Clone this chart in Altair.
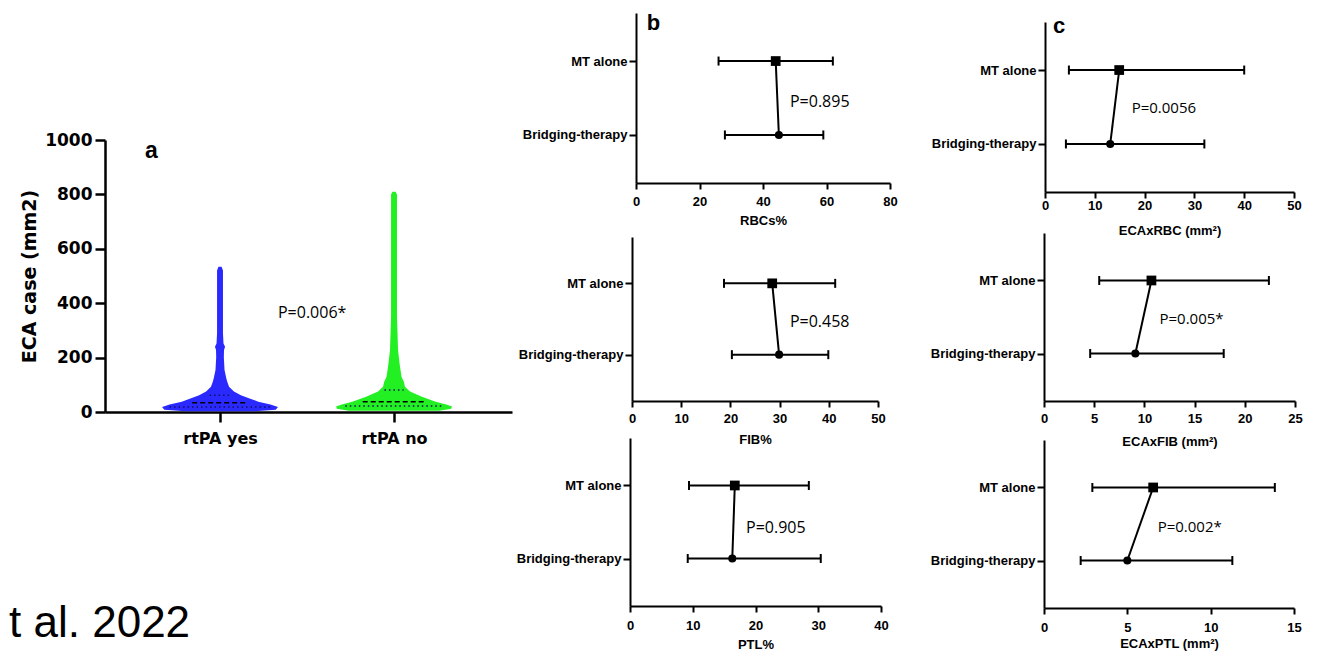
import altair as alt
import pandas as pd

# ---------------- data ----------------
# panel a : violin outlines (y value, half width in x-axis units)
group_names = ["rtPA yes", "rtPA no"]
group_pos = [1, 2]
group_colors = ["#2a2aff", "#22f022"]

blue_y = [3, 8, 18, 28, 38, 50, 62, 75, 93, 110, 124, 154, 200, 228, 240, 252, 290, 520, 534]
blue_hw = [0.20, 0.32, 0.333, 0.29, 0.22, 0.17, 0.12, 0.08, 0.052, 0.042, 0.036, 0.026,
           0.022, 0.023, 0.029, 0.02, 0.017, 0.017, 0.009]
green_y = [5, 12, 20, 28, 38, 56, 75, 93, 110, 130, 173, 228, 290, 350, 800, 810]
green_hw = [0.26, 0.328, 0.333, 0.30, 0.24, 0.16, 0.092, 0.063, 0.057, 0.043, 0.033,
            0.023, 0.02, 0.017, 0.017, 0.009]

# quartile lines: (value, half length) per group
blue_q = {"median": (34, 0.16), "q1": (18, 0.29), "q3": (62, 0.06)}
green_q = {"median": (38, 0.18), "q1": (22, 0.28), "q3": (81, 0.055)}
a_ticks = [0, 200, 400, 600, 800, 1000]
a_ptext = "P=0.006*"

# forest panels
forest_rows = ["MT alone", "Bridging-therapy"]
rbc_mean, rbc_lo, rbc_hi = [44, 45], [26, 28], [62, 59]
fib_mean, fib_lo, fib_hi = [28.5, 29.9], [18.7, 20.3], [41.3, 39.9]
ptl_mean, ptl_lo, ptl_hi = [16.7, 16.3], [9.4, 9.2], [28.5, 30.4]
erbc_mean, erbc_lo, erbc_hi = [14.9, 13.1], [4.8, 4.2], [40, 32]
efib_mean, efib_lo, efib_hi = [10.7, 9.1], [5.5, 4.6], [22.4, 17.9]
eptl_mean, eptl_lo, eptl_hi = [6.55, 5.0], [2.9, 2.2], [13.85, 11.3]

rbc_ticks = [0, 20, 40, 60, 80]
fib_ticks = [0, 10, 20, 30, 40, 50]
ptl_ticks = [0, 10, 20, 30, 40]
erbc_ticks = [0, 10, 20, 30, 40, 50]
efib_ticks = [0, 5, 10, 15, 20, 25]
eptl_ticks = [0, 5, 10, 15]

titles = ["RBCs%", "FIB%", "PTL%", "ECAxRBC (mm²)", "ECAxFIB (mm²)", "ECAxPTL (mm²)"]
ptexts = ["P=0.895", "P=0.458", "P=0.905", "P=0.0056", "P=0.005*", "P=0.002*"]
# annotation anchors in data units (x, y)
p_pos = [(48.5, 1.45), (32.1, 1.46), (18.5, 1.42), (17.4, 1.48), (11.5, 1.47), (6.82, 1.46)]
a_p_pos = (1.333, 365)
a_letter_pos = (0.569, 933)
b_letter_pos = (3.37, 2.42)
c_letter_pos = (1.6, 2.50)
cite_text = "t al. 2022"
cite_pos = (0.828, -826)

# ---------------- layout ----------------
W, H = 1303, 644
Y_DOM = [0.35, 2.65]
BLACK = "black"
ARIAL = "Liberation Sans"
DJV = "DejaVu Sans"
PFONT = "Open Sans"

layers = []


def sx(P):
    return alt.Scale(domain=P["xd"], range=P["xr"], nice=False, zero=False)


def sy(P):
    return alt.Scale(domain=P["yd"], range=P["yr"], nice=False, zero=False)


def XE(field, P, axis=None):
    return alt.X(f"{field}:Q", scale=sx(P), axis=axis)


def YE(field, P, axis=None):
    return alt.Y(f"{field}:Q", scale=sy(P), axis=axis)


def text_layer(P, x, y, t, **mk):
    d = pd.DataFrame({"x": [x], "y": [y], "t": [t]})
    return alt.Chart(d).mark_text(color=BLACK, **mk).encode(
        x=XE("x", P), y=YE("y", P), text="t:N")


def forest(mean, lo, hi, ticks, title, ptext, ppos, xr, yr, lpad, tpad, psize,
           letter=None, lpos=None):
    P = {"xd": [ticks[0], ticks[-1]], "xr": xr, "yd": Y_DOM, "yr": yr}
    df = pd.DataFrame({"row": [2, 1], "label": forest_rows, "mean": mean, "lo": lo, "hi": hi})
    xaxis = alt.Axis(values=ticks, orient="bottom", offset=yr[0] - H, title=title,
                     tickSize=6, tickWidth=2, domainWidth=2, labelPadding=lpad,
                     labelFont=ARIAL, labelFontWeight="bold", labelFontSize=13,
                     titleFont=ARIAL, titleFontWeight="bold", titleFontSize=13,
                     titlePadding=tpad, labelFlush=False, labelOverlap=False, grid=False)
    yaxis = alt.Axis(values=[1, 2], orient="left", offset=-xr[0], title=None,
                     labelExpr=f"datum.value == 2 ? '{forest_rows[0]}' : '{forest_rows[1]}'",
                     tickSize=7, tickWidth=2, domainWidth=2, labelPadding=2,
                     labelFont=ARIAL, labelFontWeight="bold", labelFontSize=13,
                     labelFlush=False, labelOverlap=False, grid=False)
    base = alt.Chart(df)
    out = [
        base.mark_rule(color=BLACK, strokeWidth=2).encode(
            x=XE("lo", P, xaxis), x2="hi:Q", y=YE("row", P, yaxis)),
        base.mark_tick(orient="vertical", size=9, thickness=2, color=BLACK, opacity=1).encode(
            x=XE("lo", P), y=YE("row", P)),
        base.mark_tick(orient="vertical", size=9, thickness=2, color=BLACK, opacity=1).encode(
            x=XE("hi", P), y=YE("row", P)),
        base.mark_line(color=BLACK, strokeWidth=2).encode(x=XE("mean", P), y=YE("row", P)),
        base.transform_filter("datum.row == 2").mark_square(size=95, color=BLACK, opacity=1).encode(
            x=XE("mean", P), y=YE("row", P)),
        base.transform_filter("datum.row == 1").mark_circle(size=65, color=BLACK, opacity=1).encode(
            x=XE("mean", P), y=YE("row", P)),
        text_layer(P, ppos[0], ppos[1], ptext, font=PFONT, fontSize=psize, align="left",
                   baseline="middle"),
    ]
    if letter:
        out.append(text_layer(P, lpos[0], lpos[1], letter, font=ARIAL, fontWeight="bold",
                              fontSize=22, align="left", baseline="alphabetic"))
    return out


# ---------------- panel a ----------------
PA = {"xd": [0.339, 2.678], "xr": [97, 504], "yd": [0, 1000], "yr": [404, 132]}

vrows = []
for g, c, ys, hws in [(group_names[0], group_pos[0], blue_y, blue_hw),
                      (group_names[1], group_pos[1], green_y, green_hw)]:
    for y, hw in zip(ys, hws):
        vrows.append({"group": g, "y": y, "lo": c - hw, "hi": c + hw})
violin_df = pd.DataFrame(vrows)

qrows = []
for g, c, qd in [(group_names[0], group_pos[0], blue_q), (group_names[1], group_pos[1], green_q)]:
    for k, (v, hl) in qd.items():
        qrows.append({"group": g, "kind": k, "y": v, "lo": c - hl, "hi": c + hl})
q_df = pd.DataFrame(qrows)

xa_axis = alt.Axis(values=group_pos, orient="bottom", offset=404 - H, title=None,
                   labelExpr=f"datum.value == 1 ? '{group_names[0]}' : '{group_names[1]}'",
                   tickSize=10, tickWidth=2.5, domainWidth=2.5, labelPadding=8,
                   labelFont=DJV, labelFontWeight="bold", labelFontSize=16,
                   labelFlush=False, grid=False)
ya_axis = alt.Axis(values=a_ticks, format="d", orient="left", offset=-97, title="ECA case (mm2)",
                   tickSize=10, tickWidth=2.5, domainWidth=2.5, labelPadding=3,
                   labelFont=DJV, labelFontWeight="bold", labelFontSize=17,
                   titleFont=DJV, titleFontWeight="bold", titleFontSize=19, titlePadding=5,
                   labelFlush=False, grid=False)

vbase = alt.Chart(violin_df)
for i, g in enumerate(group_names):
    layers.append(
        vbase.transform_filter(alt.datum.group == g).mark_area(
            orient="horizontal", color=group_colors[i], opacity=1).encode(
            y=YE("y", PA, ya_axis if i == 0 else None),
            x=XE("lo", PA, xa_axis if i == 0 else None), x2="hi:Q"))

qbase = alt.Chart(q_df)
layers.append(qbase.transform_filter(alt.datum.kind == "median").mark_rule(
    color=BLACK, strokeWidth=1.5, strokeDash=[5, 3]).encode(
    y=YE("y", PA), x=XE("lo", PA), x2="hi:Q"))
layers.append(qbase.transform_filter(alt.datum.kind != "median").mark_rule(
    color="#101060", strokeWidth=1.5, strokeDash=[1.5, 3]).encode(
    y=YE("y", PA), x=XE("lo", PA), x2="hi:Q"))
layers.append(text_layer(PA, a_p_pos[0], a_p_pos[1], a_ptext, font=PFONT, fontSize=16,
                         align="left", baseline="middle"))
layers.append(text_layer(PA, a_letter_pos[0], a_letter_pos[1], "a", font=ARIAL,
                         fontWeight="bold", fontSize=23, align="left", baseline="alphabetic"))
layers.append(text_layer(PA, cite_pos[0], cite_pos[1], cite_text, font=ARIAL, fontSize=44,
                         align="right", baseline="alphabetic"))

# ---------------- forest panels ----------------
layers += forest(rbc_mean, rbc_lo, rbc_hi, rbc_ticks, titles[0], ptexts[0], p_pos[0],
                 [628, 882], [175, 5], 6, 6, 16, "b", b_letter_pos)
layers += forest(fib_mean, fib_lo, fib_hi, fib_ticks, titles[1], ptexts[1], p_pos[1],
                 [624, 870], [393, 229], 5, 8, 16)
layers += forest(ptl_mean, ptl_lo, ptl_hi, ptl_ticks, titles[2], ptexts[2], p_pos[2],
                 [622, 873], [598, 430], 7, 6, 16)
layers += forest(erbc_mean, erbc_lo, erbc_hi, erbc_ticks, titles[3], ptexts[3], p_pos[3],
                 [1037, 1286], [184, 14], 1, 12, 15, "c", c_letter_pos)
layers += forest(efib_mean, efib_lo, efib_hi, efib_ticks, titles[4], ptexts[4], p_pos[4],
                 [1036, 1287], [393, 225], 5, 10, 15)
layers += forest(eptl_mean, eptl_lo, eptl_hi, eptl_ticks, titles[5], ptexts[5], p_pos[5],
                 [1036, 1286], [600, 432], 7, 3, 15)

chart = alt.layer(*layers).resolve_scale(
    x="independent", y="independent"
).resolve_axis(
    x="independent", y="independent"
).properties(
    width=W, height=H, padding=0, autosize=alt.AutoSizeParams(type="none"), background="white"
).configure_view(
    strokeWidth=0
).configure_axis(
    grid=False, domainColor=BLACK, tickColor=BLACK, labelColor=BLACK, titleColor=BLACK
)

chart.save("out.html", embed_options={"renderer": "svg", "actions": False})
